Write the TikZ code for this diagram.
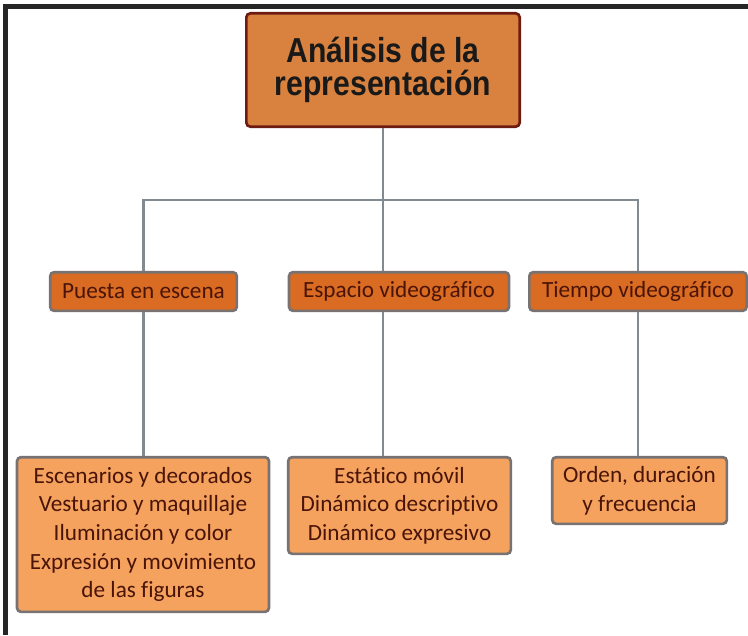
\documentclass[tikz,border=0pt]{standalone}
\usepackage{fontspec}
\setmainfont[Ligatures=NoCommon]{Carlito}
\newfontfamily\titlefont[FakeStretch=0.87]{Liberation Sans}
\usepackage{tikz}
\definecolor{rootfill}{HTML}{D9823F}
\definecolor{rootline}{HTML}{6E1C12}
\definecolor{midfill}{HTML}{D96B22}
\definecolor{leaffill}{HTML}{F4A25E}
\definecolor{boxline}{HTML}{787272}
\definecolor{linkgray}{HTML}{808A8F}
\definecolor{txtbrown}{HTML}{4A1408}

\begin{document}
\begin{tikzpicture}[x=0.75pt,y=-0.75pt,
    root/.style={draw=rootline,line width=2pt,fill=rootfill,rounded corners=3pt,
        minimum width=205pt,minimum height=85pt,align=center,
        font=\titlefont\bfseries\fontsize{26}{24.5}\selectfont,text=black!90},
    mid/.style={draw=boxline,line width=2pt,fill=midfill,rounded corners=3pt,
        minimum height=29pt,inner sep=0pt,font=\fontsize{17.4}{21.5}\selectfont,text=txtbrown},
    leaf/.style={draw=boxline,line width=2pt,fill=leaffill,rounded corners=3pt,
        inner sep=0pt,align=center,font=\fontsize{17.4}{21.5}\selectfont,text=txtbrown},
    link/.style={draw=linkgray,line width=2.2pt}]

\useasboundingbox[fill=white] (0,0) rectangle (748,635);
\draw[line width=3.5pt,black!85] (5.5,635) -- (5.5,6.5) -- (748,6.5);

\node[root] (root) at (383,70) {Análisis de la\\representación};

\node[mid,minimum width=140pt] (puesta) at (143.5,291.5) {Puesta en escena};
\node[mid,minimum width=165pt] (espacio) at (399,291.5) {Espacio videográfico};
\node[mid,minimum width=163pt] (tiempo) at (638,291.5) {Tiempo videográfico};

\node[leaf,minimum width=189pt,minimum height=116pt] (escenarios) at (143,534.5)
    {Escenarios y decorados\\Vestuario y maquillaje\\Iluminación y color\\Expresión y movimiento\\de las figuras};
\node[leaf,minimum width=167pt,minimum height=72.5pt] (estatico) at (399.5,505.5)
    {Estático móvil\\Dinámico descriptivo\\Dinámico expresivo};
\node[leaf,minimum width=131pt,minimum height=50pt] (orden) at (639.5,490.5)
    {Orden, duración\\y frecuencia};

\coordinate (hub) at (383,200);
\draw[link] (root) -- (hub);
\draw[link] (puesta.north) |- (hub) -| (tiempo.north);
\draw[link] (hub) -- (hub |- espacio.north);

\draw[link] (puesta.south) -- (puesta.south |- escenarios.north);
\draw[link] (hub |- espacio.south) -- (hub |- estatico.north);
\draw[link] (tiempo.south) -- (tiempo.south |- orden.north);
\end{tikzpicture}
\end{document}
